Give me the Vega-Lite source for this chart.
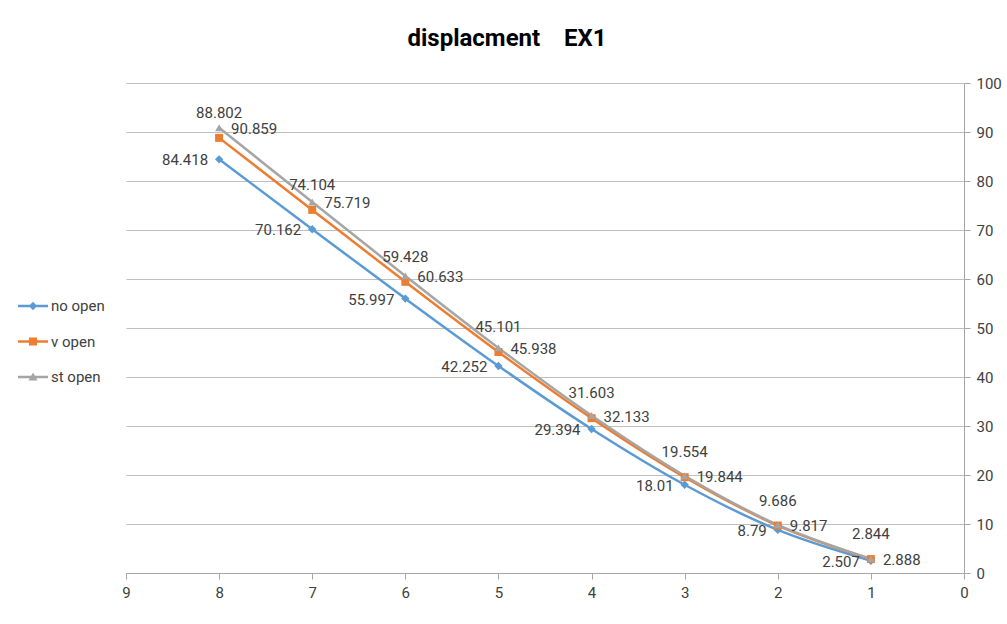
{
  "$schema": "https://vega.github.io/schema/vega-lite/v6.json",
  "width": 838,
  "height": 490,
  "autosize": {"type": "none"},
  "padding": {"left": 126, "top": 83, "right": 43, "bottom": 51},
  "background": "white",
  "config": {
    "font": "Liberation Sans Narrow, Roboto, sans-serif",
    "view": {"stroke": null}
  },
  "title": {
    "text": "displacment\u00a0\u00a0\u00a0\u00a0EX1",
    "anchor": "middle",
    "frame": "group",
    "dx": -38,
    "offset": 25,
    "fontSize": 24,
    "fontWeight": "bold",
    "color": "#000000",
    "font": "Liberation Sans Narrow, Roboto, sans-serif"
  },
  "data": {
    "values": [
      {"x": 8, "series": "no open", "value": 84.418},
      {"x": 7, "series": "no open", "value": 70.162},
      {"x": 6, "series": "no open", "value": 55.997},
      {"x": 5, "series": "no open", "value": 42.252},
      {"x": 4, "series": "no open", "value": 29.394},
      {"x": 3, "series": "no open", "value": 18.01},
      {"x": 2, "series": "no open", "value": 8.79},
      {"x": 1, "series": "no open", "value": 2.507},
      {"x": 8, "series": "v open", "value": 88.802},
      {"x": 7, "series": "v open", "value": 74.104},
      {"x": 6, "series": "v open", "value": 59.428},
      {"x": 5, "series": "v open", "value": 45.101},
      {"x": 4, "series": "v open", "value": 31.603},
      {"x": 3, "series": "v open", "value": 19.554},
      {"x": 2, "series": "v open", "value": 9.686},
      {"x": 1, "series": "v open", "value": 2.844},
      {"x": 8, "series": "st open", "value": 90.859},
      {"x": 7, "series": "st open", "value": 75.719},
      {"x": 6, "series": "st open", "value": 60.633},
      {"x": 5, "series": "st open", "value": 45.938},
      {"x": 4, "series": "st open", "value": 32.133},
      {"x": 3, "series": "st open", "value": 19.844},
      {"x": 2, "series": "st open", "value": 9.817},
      {"x": 1, "series": "st open", "value": 2.888}
    ]
  },
  "encoding": {
    "x": {
      "field": "x",
      "type": "quantitative",
      "scale": {"domain": [0, 9], "reverse": true, "nice": false, "zero": false},
      "axis": {
        "values": [0, 1, 2, 3, 4, 5, 6, 7, 8, 9],
        "title": null,
        "grid": false,
        "domainColor": "#A6A6A6",
        "domainWidth": 1,
        "tickColor": "#A6A6A6",
        "tickSize": 6,
        "labelFontSize": 15,
        "labelColor": "#404040",
        "labelPadding": 6,
        "labelFlush": false
      }
    },
    "y": {
      "field": "value",
      "type": "quantitative",
      "scale": {"domain": [0, 100], "nice": false},
      "axis": {
        "orient": "right",
        "values": [0, 10, 20, 30, 40, 50, 60, 70, 80, 90, 100],
        "title": null,
        "grid": true,
        "gridColor": "#BFBFBF",
        "gridWidth": 1,
        "domainColor": "#A6A6A6",
        "tickColor": "#A6A6A6",
        "tickSize": 6,
        "labelFontSize": 15,
        "labelColor": "#404040",
        "labelPadding": 6
      }
    },
    "color": {
      "field": "series",
      "type": "nominal",
      "scale": {"domain": ["no open", "v open", "st open"], "range": ["#5B9BD5", "#ED7D31", "#A5A5A5"]},
      "legend": {
        "title": null,
        "orient": "none",
        "legendX": -108,
        "legendY": 208,
        "symbolSize": 900,
        "symbolStrokeWidth": 0,
        "symbolOpacity": 1,
        "labelFontSize": 15,
        "labelColor": "#404040",
        "labelOffset": 3,
        "rowPadding": 12.5,
        "padding": 0,
        "encode": {
          "symbols": {
            "update": {
              "shape": {"signal": "datum.value === 'no open' ? 'M-1,-0.08H1V0.08H-1Z M0,-0.28L0.28,0L0,0.28L-0.28,0Z' : datum.value === 'v open' ? 'M-1,-0.08H1V0.08H-1Z M-0.27,-0.27H0.27V0.27H-0.27Z' : 'M-1,-0.08H1V0.08H-1Z M0,-0.3L0.3,0.24H-0.3Z'"},
              "fill": {"scale": "color", "field": "value"},
              "strokeWidth": {"value": 0},
              "opacity": {"value": 1}
            }
          },
          "labels": {
            "update": {
              "text": {"signal": "datum.value === 'v open' ? '\u00a0v open' : datum.value"}
            }
          }
        }
      }
    }
  },
  "layer": [
    {
      "mark": {"type": "line", "interpolate": "monotone", "strokeWidth": 2.5},
      "encoding": {
        "order": {"field": "x", "type": "quantitative"}
      }
    },
    {
      "transform": [{"filter": "datum.series === 'no open'"}],
      "mark": {"type": "point", "filled": true, "opacity": 1, "size": 70, "shape": "diamond"}
    },
    {
      "transform": [{"filter": "datum.series === 'v open'"}],
      "mark": {"type": "point", "filled": true, "opacity": 1, "size": 64, "shape": "square"}
    },
    {
      "transform": [{"filter": "datum.series === 'st open'"}],
      "mark": {"type": "point", "filled": true, "opacity": 1, "size": 64, "shape": "triangle-up"}
    },
    {
      "transform": [{"filter": "datum.series === 'no open'"}],
      "mark": {"type": "text", "align": "right", "baseline": "middle", "dx": -11, "dy": 1, "fontSize": 15, "color": "#404040"},
      "encoding": {"text": {"field": "value", "type": "nominal"}, "color": {"value": "#404040"}}
    },
    {
      "transform": [{"filter": "datum.series === 'v open'"}],
      "mark": {"type": "text", "align": "center", "baseline": "middle", "dx": 0, "dy": -25, "fontSize": 15, "color": "#404040"},
      "encoding": {"text": {"field": "value", "type": "nominal"}, "color": {"value": "#404040"}}
    },
    {
      "transform": [{"filter": "datum.series === 'st open'"}],
      "mark": {"type": "text", "align": "left", "baseline": "middle", "dx": 12, "dy": 1, "fontSize": 15, "color": "#404040"},
      "encoding": {"text": {"field": "value", "type": "nominal"}, "color": {"value": "#404040"}}
    }
  ]
}
